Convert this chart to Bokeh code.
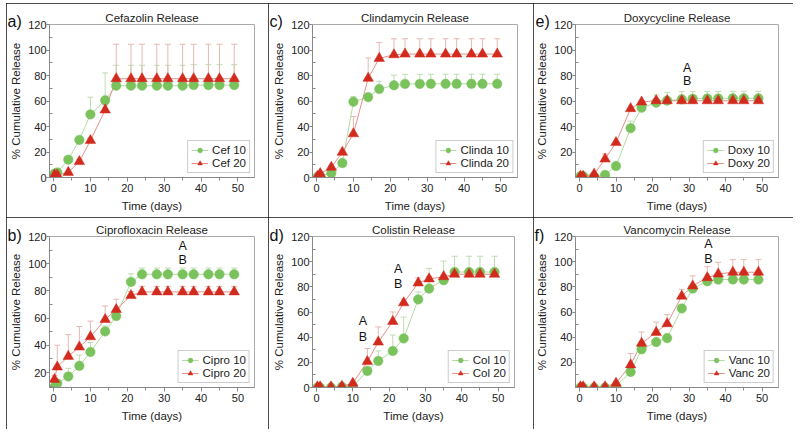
from bokeh.plotting import figure
from bokeh.models import (Range1d, FixedTicker, Legend, LegendItem, Whisker,
                          TeeHead, ColumnDataSource, Title, Spacer)
from bokeh.layouts import row, column
from bokeh.embed import file_html
from bokeh.resources import INLINE
from bokeh.core.properties import value

# ---------------- data ----------------
days = [0.25, 1, 4, 7, 10, 14, 17, 21, 24, 28, 31, 35, 38, 42, 45, 49]

cef10 = [3, 4, 14, 29.5, 49.5, 60.5, 72, 72, 72, 72, 72, 72, 72.5, 72.5, 72.5, 72.5]
cef10_sd = [0.5, 0.5, 1, 1, 13.5, 21.5, 16, 16, 16, 16, 16, 16, 16, 16, 16, 16]
cef20 = [2, 2, 4, 12.5, 29, 53, 77.5, 77.5, 77.5, 77.5, 77.5, 77.5, 77.5, 77.5, 77.5, 77.5]
cef20_sd = [0.5, 0.5, 1, 1.5, 2, 4, 27, 27, 27, 27, 27, 27, 27, 27, 27, 27]

clinda10 = [0.5, 1, 3.4, 11.3, 59.4, 63, 69.4, 72.3, 73.4, 73.4, 73.5, 73.5, 73.5, 73.5, 73.5, 73.5]
clinda10_sd = [0.5, 0.5, 1, 1, 4, 2, 6, 8, 7.5, 7.5, 7.5, 7.5, 7.5, 7.5, 7.5, 7.5]
clinda20 = [1, 3, 8, 19.8, 34.3, 77.8, 93.4, 96.3, 96.8, 96.8, 96.8, 96.8, 96.8, 96.8, 96.8, 96.8]
clinda20_sd = [0.5, 1, 1, 1.5, 13.5, 16, 12.5, 12.5, 12, 12, 12, 12, 12, 12, 12, 12]

doxy10 = [1, 1, 0.8, 2, 9, 38.7, 54.7, 58.7, 60.3, 61.3, 61.8, 62, 62, 62.1, 62.1, 62.1]
doxy10_sd = [0.3, 0.3, 0.3, 0.5, 1, 5.5, 3, 6, 6.5, 6, 5.5, 5.5, 5.5, 5.5, 5.5, 5.5]
doxy20 = [1, 1, 2.6, 14.5, 27.4, 54, 59.2, 60.3, 60.2, 60.2, 60.2, 60.2, 60.2, 60.2, 60.2, 60.2]
doxy20_sd = [0.3, 0.3, 0.5, 4, 1, 1, 1, 1, 1, 1, 1, 1, 1, 1, 1, 1]

cipro10 = [9.5, 12, 17.1, 24.9, 35.1, 50.2, 61.5, 86.6, 92.2, 92.2, 92.2, 92.2, 92.2, 92.2, 92.2, 92.2]
cipro10_sd = [1, 2, 6, 8, 7, 4, 3, 6, 4.6, 4.6, 4.6, 4.6, 4.6, 4.6, 4.6, 4.6]
cipro20 = [14.9, 24.1, 31.9, 38.8, 46.3, 59, 66.3, 76.6, 79.3, 79.3, 79.3, 79.3, 79.3, 79.3, 79.3, 79.3]
cipro20_sd = [3, 16, 16, 15, 11.5, 10, 7.6, 3, 4, 4, 4, 4, 4, 4, 4, 4]

col10 = [0, 0, 0, 0.5, 0.5, 13.2, 21.1, 29, 39, 70, 78.6, 85.2, 91.8, 91.8, 91.8, 91.8]
col10_sd = [0.3, 0.3, 0.3, 0.5, 0.5, 3, 8, 12.7, 17, 6, 16, 15.3, 12.5, 12.5, 12.5, 12.5]
col20 = [0.5, 0.5, 0.5, 1, 3.4, 20.6, 36.1, 52.5, 67.3, 83.1, 86.3, 88.1, 90, 90, 90, 90]
col20_sd = [0.3, 0.3, 0.3, 0.5, 1, 10.4, 12, 7.5, 3, 4, 2, 1.5, 1, 1, 1, 1]

vanc10 = [0, 0, 0, 0, 1, 12.4, 30.3, 36.1, 39.3, 62.8, 78.6, 84.4, 85.8, 85.8, 85.8, 85.8]
vanc10_sd = [0.3, 0.3, 0.3, 0.3, 1, 2, 3, 2, 2, 3, 2, 2, 2, 2, 2, 2]
vanc20 = [0.5, 0.5, 0.5, 0.5, 3.4, 18, 35.1, 43.8, 50.7, 72.6, 80.7, 87.3, 90.2, 91.6, 91.6, 91.6]
vanc20_sd = [0.3, 0.3, 0.3, 0.3, 1, 9, 9, 8.2, 7.3, 5.4, 8, 8.7, 9.3, 10, 10, 10]

x_ticks = [0, 10, 20, 30, 40, 50]
y_ticks_full = [0, 20, 40, 60, 80, 100, 120]
y_ticks_short = [20, 40, 60, 80, 100, 120]

ann_b = (["A", "B"], [35, 35], [113, 103])
ann_d = (["A", "B", "A", "B"], [12.8, 12.8, 22.5, 22.5], [53, 40.5, 94.5, 82])
ann_e = (["A", "B"], [29.5, 29.5], [86, 76])
ann_f = (["A", "B"], [35.3, 35.3], [113.7, 102.4])

# ---------------- style ----------------
FONT = "Liberation Sans"
GREEN = "#7ac35c"
GREEN_LINE = "#b2dca4"
GREEN_ERR = "#bedcb4"
RED = "#d32a1e"
RED_LINE = "#e69088"
RED_ERR = "#e6b8b2"
XR = (-1.1, 54.5)


def make_panel(letter, title, name, m10, s10, m20, s20, width, height,
               borders, y_start, yticks, ann, letter_align, letter_standoff):
    left, right, top, bottom = borders
    p = figure(width=width, height=height, output_backend="svg",
               toolbar_location=None, x_range=Range1d(*XR),
               y_range=Range1d(y_start, 120), min_border_left=left,
               min_border_right=right, min_border_top=top,
               min_border_bottom=bottom,
               styles={"outline": "1px solid #111", "outline-offset": "-1px"})
    p.grid.visible = False
    p.outline_line_color = "#aaaaaa"
    p.background_fill_color = "white"
    p.border_fill_color = "white"

    p.title.text = title
    p.title.align = "center"
    p.title.text_font = FONT
    p.title.text_font_size = "11.5px"
    p.title.text_font_style = "normal"
    p.title.text_color = "#222222"
    p.title.standoff = 2

    for ax in (p.xaxis[0], p.yaxis[0]):
        ax.axis_line_color = "#888888"
        ax.major_tick_line_color = "#888888"
        ax.minor_tick_line_color = "#888888"
        ax.major_tick_in = 0
        ax.major_label_text_font = FONT
        ax.major_label_text_font_size = "11px"
        ax.major_label_text_color = "#222222"
        ax.axis_label_text_font = FONT
        ax.axis_label_text_font_size = "11.5px"
        ax.axis_label_text_font_style = "normal"
        ax.axis_label_text_color = "#222222"
    p.xaxis.ticker = FixedTicker(ticks=x_ticks, minor_ticks=[5, 15, 25, 35, 45])
    p.xaxis.major_tick_out = 4
    p.xaxis.minor_tick_out = 3
    p.xaxis.minor_tick_in = 0
    p.xaxis.major_label_standoff = 2
    p.xaxis.axis_label = "Time (days)"
    p.xaxis.axis_label_standoff = 5
    p.yaxis.ticker = FixedTicker(ticks=yticks,
                                 minor_ticks=[10, 30, 50, 70, 90, 110])
    p.yaxis.major_tick_out = 3
    p.yaxis.minor_tick_out = 0
    p.yaxis.minor_tick_in = 3
    p.yaxis.major_label_standoff = 0
    p.yaxis.axis_label = "% Cumulative Release"
    p.yaxis.axis_label_standoff = 3

    src10 = ColumnDataSource(dict(x=days, y=m10,
                                  up=[a + b for a, b in zip(m10, s10)]))
    src20 = ColumnDataSource(dict(x=days, y=m20,
                                  up=[a + b for a, b in zip(m20, s20)]))

    for src, col in ((src10, GREEN_ERR), (src20, RED_ERR)):
        w = Whisker(source=src, base="x", lower="y", upper="up",
                    dimension="height", line_color=col, line_width=1,
                    lower_head=None,
                    upper_head=TeeHead(size=6, line_color=col, line_width=1))
        p.add_layout(w)

    l10 = p.line("x", "y", source=src10, line_color=GREEN_LINE, line_width=1)
    l20 = p.line("x", "y", source=src20, line_color=RED_LINE, line_width=1)
    c10 = p.scatter("x", "y", source=src10, marker="circle", size=9.5,
                    fill_color=GREEN, line_color=GREEN, line_width=0.5)
    c20 = p.scatter("x", "y", source=src20, marker="triangle", size=10.5,
                    fill_color=RED, line_color=RED, line_width=0.5)

    legend = Legend(items=[LegendItem(label=name + " 10", renderers=[l10, c10]),
                           LegendItem(label=name + " 20", renderers=[l20, c20])],
                    location="bottom_right", label_text_font=FONT,
                    label_text_font_size="11.5px", label_text_color="#222222",
                    label_height=12, glyph_height=12, glyph_width=17,
                    label_standoff=4, padding=3, spacing=1, margin=4,
                    border_line_color="#999999", background_fill_alpha=1)
    p.add_layout(legend)

    if ann is not None:
        txt, ax_, ay_ = ann
        asrc = ColumnDataSource(dict(x=ax_, y=ay_, t=txt))
        p.text("x", "y", text="t", source=asrc, text_font=value(FONT),
               text_font_size="12.5px", text_align="center",
               text_baseline="middle", text_color="#111111")

    # panel letter as an extra zero-height title, shifted left of the frame
    p.add_layout(Title(text=letter, align="left", offset=-(left - 1),
                       text_font=FONT, text_font_size="16px",
                       text_font_style="normal", vertical_align=letter_align,
                       standoff=letter_standoff, text_color="#111111"), "above")
    return p


# panel sizes: columns 262/265/260, rows 214/212 (after 6px / 3px offsets)
W1, W2, W3 = 262, 265, 260
H1, H2 = 214, 212

pa = make_panel("a)", "Cefazolin Release", "Cef", cef10, cef10_sd, cef20, cef20_sd,
                W1, H1, (43, 14, 21, 40), 0, y_ticks_full, None, "top", -24)
pc = make_panel("c)", "Clindamycin Release", "Clinda", clinda10, clinda10_sd,
                clinda20, clinda20_sd, W2, H1, (44, 16, 21, 40), 0, y_ticks_full,
                None, "top", -24)
pe = make_panel("e)", "Doxycycline Release", "Doxy", doxy10, doxy10_sd, doxy20,
                doxy20_sd, W3, H1, (41, 15, 21, 40), 0, y_ticks_short, ann_e,
                "top", -24)
pb = make_panel("b)", "Ciprofloxacin Release", "Cipro", cipro10, cipro10_sd,
                cipro20, cipro20_sd, W1, H2, (43, 14, 19, 42), 9, y_ticks_short,
                ann_b, "top", -20)
pd = make_panel("d)", "Colistin Release", "Col", col10, col10_sd, col20, col20_sd,
                W2, H2, (44, 19, 19, 42), 0, y_ticks_full, ann_d, "top", -20)
pf = make_panel("f)", "Vancomycin Release", "Vanc", vanc10, vanc10_sd, vanc20,
                vanc20_sd, W3, H2, (42, 15, 19, 42), 0, y_ticks_short, ann_f,
                "top", -20)

layout = column(Spacer(height=3),
                row(Spacer(width=6), pa, pc, pe),
                row(Spacer(width=6), pb, pd, pf))
open("out.html", "w").write(file_html(layout, INLINE))
